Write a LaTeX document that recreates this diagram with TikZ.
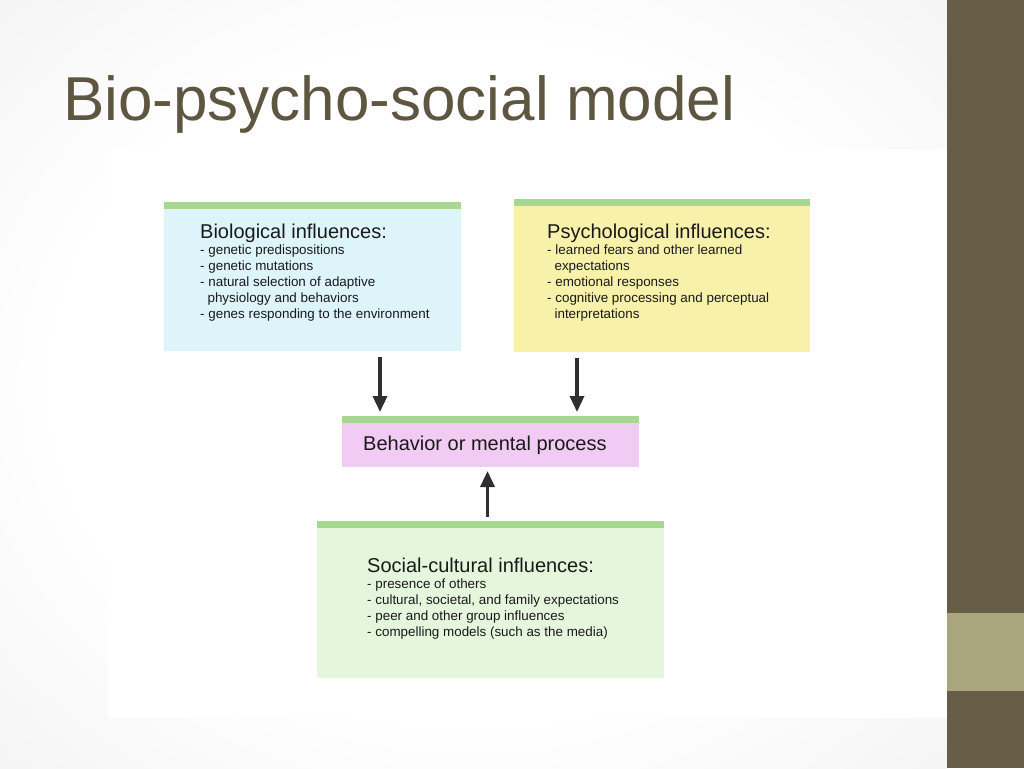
\documentclass[tikz,border=0pt]{standalone}
\usepackage{fontspec}
\setmainfont{Liberation Sans}
\usetikzlibrary{positioning,arrows.meta}

\definecolor{slidebar}{HTML}{655D46}
\definecolor{slideaccent}{HTML}{A9A57D}
\definecolor{titlebrown}{HTML}{5E5641}
\definecolor{bargreen}{HTML}{A8D88F}
\definecolor{biofill}{HTML}{DDF4FB}
\definecolor{psyfill}{HTML}{F8F1AA}
\definecolor{behfill}{HTML}{F1CBF3}
\definecolor{socfill}{HTML}{E4F6DC}
\definecolor{arrowgray}{HTML}{2F2F2F}
\definecolor{inktext}{HTML}{1A1A1A}

\pgfdeclareradialshading{slideglow}{\pgfpoint{0bp}{0bp}}{%
  color(0bp)=(white); color(22bp)=(white); color(45bp)=(black!7); color(72bp)=(black!16)}

\tikzset{
  panel/.style={anchor=north west, inner sep=0pt, outer sep=0pt,
    path picture={\fill[bargreen] (path picture bounding box.north west)
      rectangle ([yshift=-7pt]path picture bounding box.north east);}},
  heading/.style={inner sep=0pt, text=inktext, font=\fontsize{20}{24}\selectfont},
  points/.style={inner sep=0pt, align=left, text=inktext, font=\fontsize{13.4}{16}\selectfont},
  flow/.style={draw=arrowgray, line width=3.4pt, -{Triangle[width=14pt,length=16pt]}},
}

\begin{document}
\begin{tikzpicture}[x=1pt, y=-1pt]
  \useasboundingbox (0,0) rectangle (1024,768);
  %slide background and side bar
  \shade[shading=slideglow] (0,0) rectangle (947,768);
  \fill[white] (108,150) rectangle (947,718);
  \fill[slidebar] (947,0) rectangle (1024,768);
  \fill[slideaccent] (947,613) rectangle (1024,691);

  %title
  \node[anchor=base west, inner sep=0pt, text=titlebrown, font=\fontsize{62}{70}\selectfont]
    (title) at (63,120) {Bio-psycho-social model};

  %the four panels
  \node[panel, fill=biofill, minimum width=297pt, minimum height=149pt] (bio) at (164,202) {};
  \node[panel, fill=psyfill, minimum width=296pt, minimum height=153pt] (psy) at (514,199) {};
  \node[panel, fill=behfill, minimum width=297pt, minimum height=51pt] (behav) at (342,416) {};
  \node[panel, fill=socfill, minimum width=347pt, minimum height=157pt] (soc) at (317,521) {};

  %panel texts (base of a list is its last line)
  \node[heading, below right=36pt and 36pt of bio.north west, anchor=base west] (biohead) {Biological influences:};
  \node[points, below=80pt of biohead.base west, anchor=base west] (biolist)
    {- genetic predispositions\\
     - genetic mutations\\
     - natural selection of adaptive\\
     \hspace*{0.55em}physiology and behaviors\\
     - genes responding to the environment};

  \node[heading, below right=39pt and 33pt of psy.north west, anchor=base west] (psyhead) {Psychological influences:};
  \node[points, below=80pt of psyhead.base west, anchor=base west] (psylist)
    {- learned fears and other learned\\
     \hspace*{0.55em}expectations\\
     - emotional responses\\
     - cognitive processing and perceptual\\
     \hspace*{0.55em}interpretations};

  \node[heading, below right=34pt and 21pt of behav.north west, anchor=base west] (behavtext) {Behavior or mental process};

  \node[heading, below right=51pt and 50pt of soc.north west, anchor=base west] (sochead) {Social-cultural influences:};
  \node[points, below=64pt of sochead.base west, anchor=base west] (soclist)
    {- presence of others\\
     - cultural, societal, and family expectations\\
     - peer and other group influences\\
     - compelling models (such as the media)};

  %arrows into the middle panel
  \coordinate (bioin) at ([xshift=38pt,yshift=4pt]behav.north west);
  \coordinate (psyin) at ([xshift=-62pt,yshift=4pt]behav.north east);
  \coordinate (socin) at ([xshift=-3pt,yshift=-4pt]behav.south);
  \draw[flow] ([yshift=-6pt]bio.south -| bioin) -- (bioin);
  \draw[flow] ([yshift=-6pt]psy.south -| psyin) -- (psyin);
  \draw[flow] ([yshift=4pt]soc.north -| socin) -- (socin);
\end{tikzpicture}
\end{document}
